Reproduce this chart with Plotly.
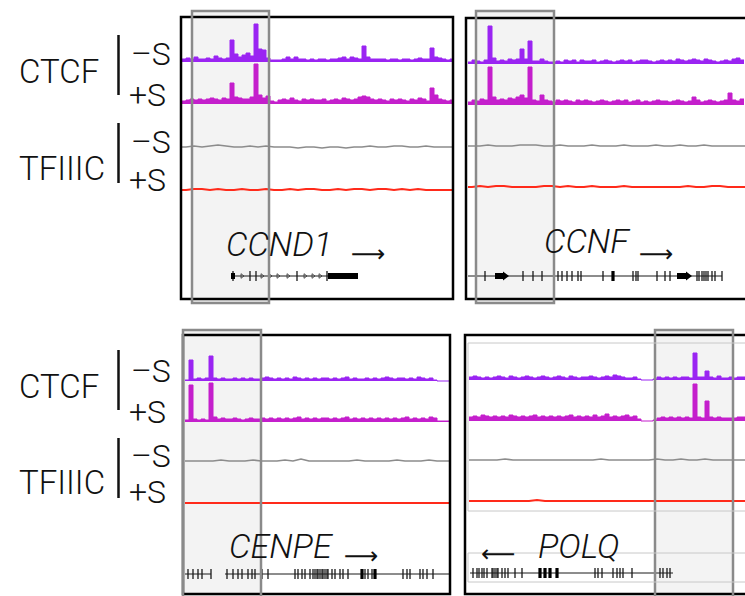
import plotly.graph_objects as go

W, H = 745, 596
BIN = 4      # width of one CTCF signal bin (axis units)
BIN_T = 8    # width of one TFIIIC signal bin (axis units)

# ---------------- signal data ----------------
# CCND1 locus
ccnd1_ctcf_minus = [3,4,3,5,3,3,4,3,6,4,3,4,22,8,5,7,9,6,38,13,12,4,2,2,2,3,5,3,5,3,3,2,3,2,3,3,2,3,3,4,
                    5,3,5,4,3,16,5,3,3,3,3,2,3,3,2,3,3,2,3,4,3,3,14,5,4,3,2,3]
ccnd1_ctcf_plus = [3,4,5,4,5,4,5,6,5,4,6,5,21,7,6,5,5,7,40,9,6,8,3,2,4,5,4,6,4,3,5,4,5,4,4,5,3,4,5,4,
                   6,5,4,5,7,8,7,5,4,5,4,3,5,4,5,4,3,5,4,6,5,3,16,9,5,4,3,4]
ccnd1_tf3c_minus = [1,2,1,2,3,2,1,1,2,1,2,1,1,1,0,1,1,0,1,1,0,1,1,2,1,1,2,2,1,1,2,1,1,1]
ccnd1_tf3c_plus = [1,2,2,1,2,1,1,2,1,1,2,1,1,2,1,2,2,1,1,2,1,2,2,1,2,2,1,2,1,2,1,1,1,1]

# CCNF locus
ccnf_ctcf_minus = [2,4,3,2,4,38,6,3,4,3,5,4,5,15,5,23,3,3,5,3,2,2,3,2,4,3,4,2,4,3,3,4,2,3,4,3,2,3,4,3,
                   4,2,3,4,4,3,2,3,4,3,4,3,5,4,3,4,5,4,3,5,4,3,2,3,4,3,5,6,4]
ccnf_ctcf_plus = [3,5,4,6,5,38,8,5,6,5,7,6,8,10,7,38,5,4,10,5,4,3,5,4,5,4,3,5,4,5,4,3,4,5,4,3,4,5,4,5,
                  3,4,5,3,4,3,4,5,4,4,3,4,5,4,3,4,8,5,3,4,5,4,3,4,5,12,5,4,6]
ccnf_tf3c_minus = [1,1,2,1,1,1,2,2,2,1,1,2,1,1,1,2,1,1,1,2,1,1,1,2,1,1,2,1,1,2,1,1,1,1,1]
ccnf_tf3c_plus = [1,2,1,2,2,1,1,1,1,2,2,1,2,1,1,2,1,1,1,2,1,1,1,1,1,1,1,2,1,1,2,2,1,1,1]

# CENPE locus
cenpe_ctcf_minus = [1,21,2,3,2,3,25,3,2,3,2,2,3,2,3,2,3,2,2,3,4,3,2,3,2,3,2,4,3,2,3,2,3,2,3,3,2,3,2,3,
                    4,2,3,2,2,3,2,3,2,3,4,3,2,3,3,2,3,2,4,3,2,3,1,0,0,0]
cenpe_ctcf_plus = [2,37,3,2,3,2,39,5,3,4,3,3,4,3,2,3,4,3,3,4,3,4,3,4,3,4,3,4,5,3,4,3,4,3,4,4,3,4,3,4,
                   5,3,4,3,4,3,4,3,4,3,4,3,4,3,4,5,3,4,3,4,3,5,4,1,1,1]
cenpe_tf3c_minus = [1,1,1,1,2,1,1,1,2,1,1,1,2,1,3,1,1,1,1,1,1,2,1,1,1,1,2,1,1,1,2,1,1]
cenpe_tf3c_plus = [1,1,1,1,1,1,1,1,1,1,1,1,1,1,1,1,1,1,1,1,1,1,1,1,1,1,1,1,1,1,1,1,1]

# POLQ locus
polq_ctcf_minus = [3,4,3,2,3,2,3,4,3,2,4,3,2,3,4,3,2,3,4,3,2,3,4,3,2,4,3,2,3,3,4,3,2,3,4,3,5,4,3,2,
                   2,3,1,0,0,0,1,3,2,3,2,3,2,3,3,2,27,3,3,9,3,2,4,2,2,3,2,3,3]
polq_ctcf_plus = [4,5,4,6,5,4,5,4,5,4,6,5,4,5,4,5,6,4,5,4,5,4,5,4,5,6,4,5,4,5,4,6,4,5,7,4,5,4,5,6,
                  4,5,2,0,0,0,1,3,4,3,4,3,4,3,4,3,37,4,3,20,4,3,4,3,3,3,3,4,4]
polq_tf3c_minus = [1,1,1,1,2,1,1,1,1,1,1,1,1,1,1,1,2,1,1,1,1,1,1,2,1,1,2,1,1,2,1,1,1,1,1]
polq_tf3c_plus = [1,1,1,1,1,1,1,1,2,1,1,1,1,1,1,1,1,1,1,1,1,1,1,1,1,1,1,1,1,1,1,1,1,1,1]

# ---------------- gene models (axis units) ----------------
ccnd1_introns = [(50, 176)]
ccnd1_exons = [51, 68, 74, 115, 145]
ccnd1_wide = []
ccnd1_thick = [(49, 53), (146, 176)]
ccnd1_chevrons = [60, 80, 88, 96, 106, 123, 131, 138]
ccnd1_heads = []

ccnf_introns = [(-2, 254)]
ccnf_exons = [17, 55, 65, 74, 90, 94, 99, 104, 110, 113, 135, 165, 168, 170, 189, 197, 202,
              229, 231, 234, 236, 238, 240, 244, 247, 254]
ccnf_wide = [145]
ccnf_thick = [(27, 35), (209, 218)]
ccnf_chevrons = []
ccnf_heads = [37, 220]

cenpe_introns = [(0, 26), (40, 265)]
cenpe_exons = [3, 8, 13, 17, 26, 42, 48, 53, 57, 63, 67, 70, 77, 83,
               110, 113, 117, 120, 125, 128, 130, 132, 133, 135, 137, 138, 140, 142, 143, 147, 150, 155, 158, 163,
               180, 183, 187, 218, 222, 225, 235, 238, 242, 248]
cenpe_wide = [177, 190]
cenpe_thick = []
cenpe_chevrons = []
cenpe_heads = []

polq_introns = [(1, 204)]
polq_exons = [4, 8, 10, 13, 15, 18, 23, 24, 26, 28, 29, 33, 36, 39, 46, 53,
              126, 129, 133, 144, 148, 151, 154, 163, 191, 194, 198, 201]
polq_wide = [71, 76, 81, 88]
polq_thick = []
polq_chevrons = []
polq_heads = []

# ---------------- colours ----------------
C_MINUS = "#9a24f2"
C_PLUS = "#c41fcc"
C_TF_MINUS = "#8c8c8c"
C_TF_PLUS = "#ff2a1a"

FONT = "Roboto"


def X(p):
    return p / W


def Y(p):
    return 1 - p / H


panels = [
    dict(name="CCND1", left=182, right=452, base=[61, 103, 147, 190], gene_y=276,
         sig=[ccnd1_ctcf_minus, ccnd1_ctcf_plus, ccnd1_tf3c_minus, ccnd1_tf3c_plus],
         introns=ccnd1_introns, exons=ccnd1_exons, wide=ccnd1_wide, thick=ccnd1_thick,
         chev=ccnd1_chevrons, heads=ccnd1_heads,
         box=(181, 17, 453, 299), hl=(192, 11, 269, 303),
         label=(279, 244), arrow=(368, 254), arrow_txt="⟶"),
    dict(name="CCNF", left=468, right=745, base=[63, 104, 146, 187], gene_y=276,
         sig=[ccnf_ctcf_minus, ccnf_ctcf_plus, ccnf_tf3c_minus, ccnf_tf3c_plus],
         introns=ccnf_introns, exons=ccnf_exons, wide=ccnf_wide, thick=ccnf_thick,
         chev=ccnf_chevrons, heads=ccnf_heads,
         box=(466, 18, 760, 299), hl=(476, 11, 554, 303),
         label=(587, 241), arrow=(656, 254), arrow_txt="⟶"),
    dict(name="CENPE", left=185, right=449, base=[380, 421, 461, 503], gene_y=574,
         sig=[cenpe_ctcf_minus, cenpe_ctcf_plus, cenpe_tf3c_minus, cenpe_tf3c_plus],
         introns=cenpe_introns, exons=cenpe_exons, wide=cenpe_wide, thick=cenpe_thick,
         chev=cenpe_chevrons, heads=cenpe_heads,
         box=(183, 335, 450, 594), hl=(183, 330, 261, 598),
         label=(281, 546), arrow=(361, 556), arrow_txt="⟶"),
    dict(name="POLQ", left=469, right=745, base=[379, 420, 460, 501], gene_y=573,
         sig=[polq_ctcf_minus, polq_ctcf_plus, polq_tf3c_minus, polq_tf3c_plus],
         introns=polq_introns, exons=polq_exons, wide=polq_wide, thick=polq_thick,
         chev=polq_chevrons, heads=polq_heads,
         box=(465, 335, 760, 594), hl=(655, 330, 733, 598),
         label=(578, 546), arrow=(498, 554), arrow_txt="⟵"),
]

# colour, bin width, line width, filled, line shape
track_style = [(C_MINUS, BIN, 1.0, True, "hv"), (C_PLUS, BIN, 1.0, True, "hv"),
               (C_TF_MINUS, BIN_T, 1.6, False, "linear"), (C_TF_PLUS, BIN_T, 2.2, False, "linear")]

fig = go.Figure()
layout = {}
shapes = []
annotations = []
ax = 0  # y axis counter


def seg_trace(xs_pairs, ys_pair, xref, yref, width, color="#1a1a1a"):
    xx, yy = [], []
    for a, b in xs_pairs:
        xx += [a, b, None]
        yy += [ys_pair[0], ys_pair[1], None]
    return go.Scatter(x=xx, y=yy, xaxis=xref, yaxis=yref, mode="lines",
                      line=dict(color=color, width=width), hoverinfo="skip", showlegend=False)


for pi, p in enumerate(panels):
    xid = pi + 1
    xname = "xaxis" if xid == 1 else f"xaxis{xid}"
    layout[xname] = dict(domain=[X(p["left"]), X(p["right"])], range=[0, p["right"] - p["left"]],
                         visible=False, fixedrange=True)
    xref = "x" if xid == 1 else f"x{xid}"
    # signal tracks
    for ti, vals in enumerate(p["sig"]):
        ax += 1
        yname = "yaxis" if ax == 1 else f"yaxis{ax}"
        yref = "y" if ax == 1 else f"y{ax}"
        b = p["base"][ti]
        layout[yname] = dict(domain=[Y(b + 2), Y(b - 42)], range=[-1, 43], visible=False,
                             fixedrange=True, anchor=xref)
        col, bw, lw, filled, shape = track_style[ti]
        if shape == "hv":
            xs = [i * bw for i in range(len(vals))] + [len(vals) * bw]
            ys = list(vals) + [vals[-1]]
        else:
            xs = [0] + [i * bw + bw / 2 for i in range(len(vals))] + [len(vals) * bw]
            ys = [vals[0]] + list(vals) + [vals[-1]]
        fig.add_trace(go.Scatter(x=xs, y=ys, xaxis=xref, yaxis=yref, mode="lines",
                                 line=dict(color=col, width=lw, shape=shape),
                                 fill="tozeroy" if filled else None, fillcolor=col,
                                 hoverinfo="skip", showlegend=False))
    # gene model
    ax += 1
    yref = f"y{ax}"
    g = p["gene_y"]
    layout[f"yaxis{ax}"] = dict(domain=[Y(g + 10), Y(g - 10)], range=[-1, 1], visible=False,
                                fixedrange=True, anchor=xref)
    fig.add_trace(seg_trace(p["introns"], (0, 0), xref, yref, 1))
    fig.add_trace(seg_trace([(e, e) for e in p["exons"]], (-0.5, 0.5), xref, yref, 1.3))
    if p["wide"]:
        fig.add_trace(seg_trace([(e, e) for e in p["wide"]], (-0.5, 0.5), xref, yref, 3.2, "#000000"))
    if p["thick"]:
        fig.add_trace(seg_trace(p["thick"], (0, 0), xref, yref, 6, "#000000"))
    if p["chev"]:
        fig.add_trace(go.Scatter(x=p["chev"], y=[0] * len(p["chev"]), xaxis=xref, yaxis=yref,
                                 mode="markers", marker=dict(symbol="triangle-right-open", size=4,
                                                             color="#333333", line=dict(width=0.8)),
                                 hoverinfo="skip", showlegend=False))
    if p["heads"]:
        fig.add_trace(go.Scatter(x=p["heads"], y=[0] * len(p["heads"]), xaxis=xref, yaxis=yref,
                                 mode="markers", marker=dict(symbol="triangle-right", size=8, color="#000000"),
                                 hoverinfo="skip", showlegend=False))

    # frames
    x0, y0, x1, y1 = p["hl"]
    shapes.append(dict(type="rect", xref="paper", yref="paper", x0=X(x0), x1=X(x1), y0=Y(y1), y1=Y(y0),
                       fillcolor="#f3f3f3", line=dict(width=0), layer="below"))
    bx0, by0, bx1, by1 = p["box"]
    shapes.append(dict(type="rect", xref="paper", yref="paper", x0=X(bx0), x1=X(bx1), y0=Y(by1), y1=Y(by0),
                       line=dict(color="#000000", width=2.5), layer="above"))
    shapes.append(dict(type="rect", xref="paper", yref="paper", x0=X(x0), x1=X(x1), y0=Y(y1), y1=Y(y0),
                       line=dict(color="#8a8a8a", width=2.5), layer="above"))
    # gene name & direction arrow
    lx, ly = p["label"]
    annotations.append(dict(text=f"<i>{p['name']}</i>", xref="paper", yref="paper", x=X(lx), y=Y(ly),
                            xanchor="center", yanchor="middle", showarrow=False,
                            font=dict(family=FONT, size=34, color="#111111", weight=300)))
    axx, axy = p["arrow"]
    annotations.append(dict(text=p["arrow_txt"], xref="paper", yref="paper", x=X(axx), y=Y(axy),
                            xanchor="center", yanchor="middle", showarrow=False,
                            font=dict(family="DejaVu Sans", size=24, color="#111111")))

# thin grey frames in the POLQ panel
shapes.append(dict(type="rect", xref="paper", yref="paper", x0=X(468), x1=X(760), y0=Y(511), y1=Y(343),
                   line=dict(color="#c8c8c8", width=1), layer="above"))
shapes.append(dict(type="rect", xref="paper", yref="paper", x0=X(468), x1=X(760), y0=Y(582), y1=Y(553),
                   line=dict(color="#c8c8c8", width=1), layer="above"))

# left-hand track labels
row_labels = [
    dict(name="CTCF", cy=71, bar=(35, 95), minus=54, plus=95),
    dict(name="TFIIIC", cy=168, bar=(123, 183), minus=142, plus=180),
    dict(name="CTCF", cy=386, bar=(350, 410), minus=371, plus=412),
    dict(name="TFIIIC", cy=482, bar=(438, 498), minus=456, plus=492),
]
for r in row_labels:
    annotations.append(dict(text=r["name"], xref="paper", yref="paper", x=X(17), y=Y(r["cy"]),
                            xanchor="left", yanchor="middle", showarrow=False,
                            font=dict(family=FONT, size=33, color="#111111", weight=300)))
    annotations.append(dict(text="–S", xref="paper", yref="paper", x=X(129), y=Y(r["minus"]),
                            xanchor="left", yanchor="middle", showarrow=False,
                            font=dict(family=FONT, size=32, color="#111111", weight=300)))
    annotations.append(dict(text="+S", xref="paper", yref="paper", x=X(127), y=Y(r["plus"]),
                            xanchor="left", yanchor="middle", showarrow=False,
                            font=dict(family=FONT, size=32, color="#111111", weight=300)))
    shapes.append(dict(type="line", xref="paper", yref="paper", x0=X(118.5), x1=X(118.5),
                       y0=Y(r["bar"][1]), y1=Y(r["bar"][0]), line=dict(color="#111111", width=2.5)))

layout.update(dict(width=W, height=H, margin=dict(l=0, r=0, t=0, b=0),
                   paper_bgcolor="white", plot_bgcolor="rgba(0,0,0,0)",
                   shapes=shapes, annotations=annotations, showlegend=False))
fig.update_layout(**layout)
fig.write_html("out.html", config={"displayModeBar": False},
               post_script="document.body.style.margin='0px';document.body.style.overflow='hidden';")
